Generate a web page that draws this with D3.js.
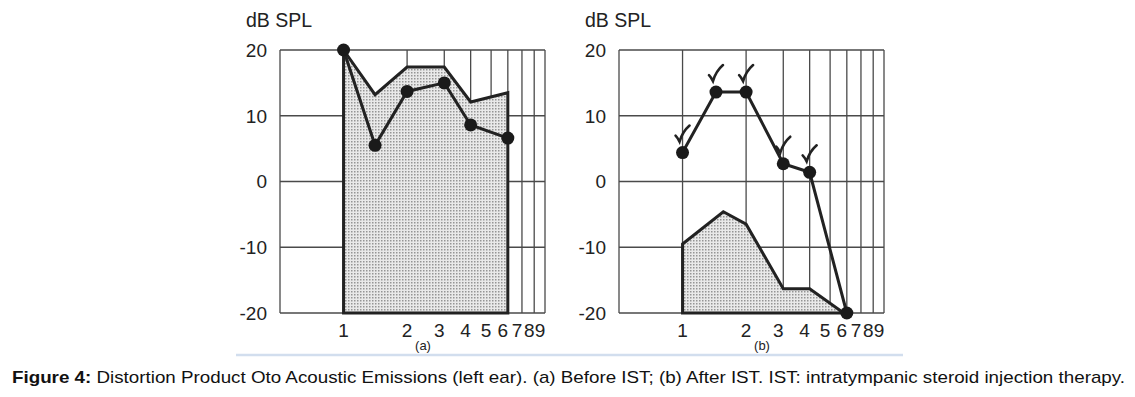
<!DOCTYPE html>
<html>
<head>
<meta charset="utf-8">
<script src="https://cdn.jsdelivr.net/npm/d3@7"></script>
<style>
  body { margin: 0; background: #fff; }
  text { font-family: "Liberation Sans", Arial, sans-serif; fill: #222; }
</style>
</head>
<body>
<svg id="chart"></svg>
<script>
const width = 1135;
const height = 397;

// axes
const freqTicks = [1, 2, 3, 4, 5, 6, 7, 8, 9];
const gridFreqs = [0.5, 1, 2, 3, 4, 5, 6, 7, 8, 9];
const dbTicks = [-20, -10, 0, 10, 20];

// (a) before IST
const freqA = [1, 1.41, 2, 3, 4, 6];
const dpoaeA = [20, 5.5, 13.7, 15, 8.6, 6.6];
const noiseFreqA = [1, 1.41, 2, 3, 4, 6];
const noiseA = [20, 13.2, 17.4, 17.4, 12.1, 13.5];

// (b) after IST
const freqB = [1, 1.44, 2, 3, 4, 6];
const dpoaeB = [4.4, 13.6, 13.6, 2.7, 1.4, -20];
const checkedB = [true, true, true, true, true, false];
const noiseFreqB = [1, 1.56, 2, 3, 4, 5.8];
const noiseB = [-9.5, -4.6, -6.5, -16.3, -16.3, -20];

const svg = d3.select('#chart').attr('width', width).attr('height', height);
svg.append('rect').attr('width', width).attr('height', height).attr('fill', '#fff');

let defs = svg.append('defs');
let pat = defs.append('pattern')
  .attr('id', 'dots')
  .attr('patternUnits', 'userSpaceOnUse')
  .attr('width', 3)
  .attr('height', 3);
pat.append('rect').attr('width', 3).attr('height', 3).attr('fill', '#e9e9e9');
pat.append('rect').attr('width', 1.5).attr('height', 1.5).attr('fill', '#959595');

let y = d3.scaleLinear().domain([-20, 20]).range([313, 50]);

function drawPanel(left, label, freqs, values, nFreqs, nValues, checks) {
  let x = d3.scaleLog().domain([0.5, 9]).range([left, left + 265]);
  let g = svg.append('g');

  // grid
  g.selectAll('line.v')
    .data(gridFreqs)
    .enter()
    .append('line')
    .attr('x1', (d) => x(d))
    .attr('x2', (d) => x(d))
    .attr('y1', y(20))
    .attr('y2', y(-20))
    .attr('stroke', '#4a4a4a')
    .attr('stroke-width', 1.3);
  g.selectAll('line.h')
    .data(dbTicks)
    .enter()
    .append('line')
    .attr('x1', x(0.5))
    .attr('x2', x(9))
    .attr('y1', (d) => y(d))
    .attr('y2', (d) => y(d))
    .attr('stroke', '#4a4a4a')
    .attr('stroke-width', 1.3);

  // shaded area
  let pts = nFreqs.map((f, i) => [f, nValues[i]]);
  pts.push([nFreqs[nFreqs.length - 1], -20], [nFreqs[0], -20]);
  let area = d3.line().x((d) => x(d[0])).y((d) => y(d[1]));
  g.append('path')
    .attr('d', area(pts) + 'Z')
    .attr('fill', 'url(#dots)')
    .attr('stroke', '#222')
    .attr('stroke-width', 3)
    .attr('stroke-linejoin', 'miter');

  // DPOAE line + dots
  let data = freqs.map((f, i) => ({ f: f, v: values[i], c: checks ? checks[i] : false }));
  g.append('path')
    .attr('d', d3.line().x((d) => x(d.f)).y((d) => y(d.v))(data))
    .attr('fill', 'none')
    .attr('stroke', '#222')
    .attr('stroke-width', 3);
  g.selectAll('circle')
    .data(data)
    .enter()
    .append('circle')
    .attr('cx', (d) => x(d.f))
    .attr('cy', (d) => y(d.v))
    .attr('r', 6.5)
    .attr('fill', '#1a1a1a');

  // check marks
  g.selectAll('path.check')
    .data(data.filter((d) => d.c))
    .enter()
    .append('path')
    .attr('transform', (d) => `translate(${x(d.f)},${y(d.v)})`)
    .attr('d', 'M-7,-17 Q-5,-15 -3,-11 Q0,-21 7,-27')
    .attr('fill', 'none')
    .attr('stroke', '#222')
    .attr('stroke-width', 2.6)
    .attr('stroke-linecap', 'round');

  // tick labels
  g.selectAll('text.y')
    .data(dbTicks)
    .enter()
    .append('text')
    .attr('x', left - 13)
    .attr('y', (d) => y(d))
    .attr('dy', '0.36em')
    .attr('text-anchor', 'end')
    .attr('font-size', 19)
    .text((d) => d);
  g.selectAll('text.x')
    .data(freqTicks)
    .enter()
    .append('text')
    .attr('x', (d) => x(d) - (d > 2 ? 5 : 0))
    .attr('y', 337)
    .attr('text-anchor', 'middle')
    .attr('font-size', 19)
    .text((d) => d);

  g.append('text')
    .attr('x', left - 34)
    .attr('y', 27)
    .attr('font-size', 19.5)
    .text('dB SPL');

  g.append('text')
    .attr('x', left + 143)
    .attr('y', 350)
    .attr('text-anchor', 'middle')
    .attr('font-size', 13)
    .text(label);
}

drawPanel(280, '(a)', freqA, dpoaeA, noiseFreqA, noiseA, null);
drawPanel(619, '(b)', freqB, dpoaeB, noiseFreqB, noiseB, checkedB);

// separator line
svg.append('line')
  .attr('x1', 236)
  .attr('x2', 903)
  .attr('y1', 355)
  .attr('y2', 355)
  .attr('stroke', '#d2deee')
  .attr('stroke-width', 2.5);

// caption
let cap = svg.append('text')
  .attr('x', 12)
  .attr('y', 383)
  .attr('font-size', 17)
  .attr('textLength', 1113)
  .attr('lengthAdjust', 'spacingAndGlyphs');
cap.append('tspan').attr('font-weight', 'bold').style('fill', '#111').text('Figure 4:');
cap.append('tspan').style('fill', '#111').text(' Distortion Product Oto Acoustic Emissions (left ear). (a) Before IST; (b) After IST. IST: intratympanic steroid injection therapy.');
</script>
</body>
</html>
